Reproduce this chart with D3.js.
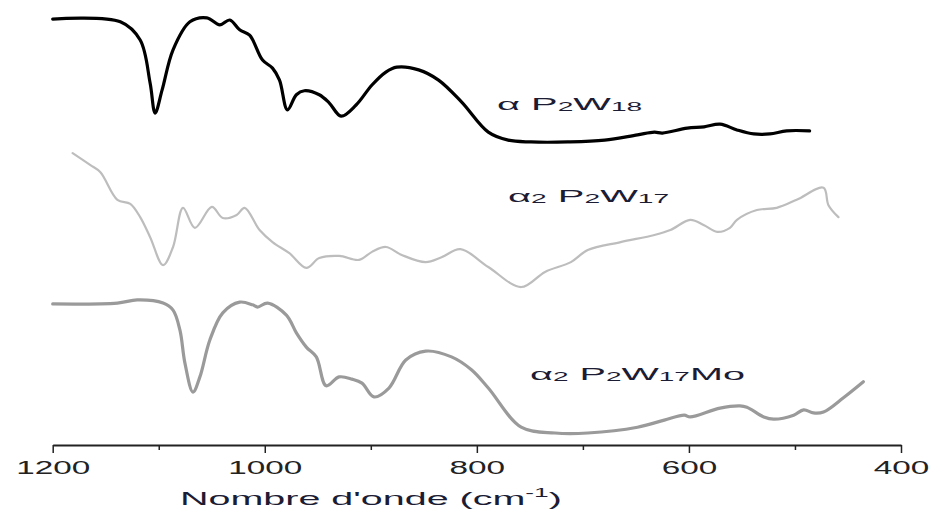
<!DOCTYPE html>
<html><head><meta charset="utf-8">
<script src="https://cdn.jsdelivr.net/npm/d3@7"></script>
<style>
html,body{margin:0;padding:0;background:#fff;}
svg{display:block;font-family:"Liberation Sans",Arial,sans-serif;}
</style></head>
<body><svg id="c" width="932" height="511"></svg>
<script>
// wavenumbers (cm-1) and transmittance-like values (a.u., stacked offsets)
const wnP2W18 = [1200,1136.2,1117.5,1108.1,1103.4,1096.8,1086.5,1070.6,1054.6,1042.4,1033.0,1023.7,1014.3,1002.1,992.7,986.1,978.6,970.2,962.7,948.6,939.3,928.0,913.9,898.9,885.8,875.5,854.9,836.1,814.5,789.2,770.4,748.9,714.2,679.5,648.5,632.5,625.0,601.6,585.7,570.6,554.7,538.8,523.7,507.8,486.2];
const valP2W18 = [95.7,95.1,91.0,81.3,74.6,79.8,88.8,95.1,96.0,94.4,95.5,93.3,92.1,86.5,84.7,82.0,75.3,78.7,79.6,78.7,76.9,73.9,76.4,80.9,83.8,84.9,84.3,82.0,77.1,70.3,68.5,68.1,68.1,68.5,69.7,70.3,70.1,71.2,71.5,72.1,70.8,69.9,69.9,70.6,70.6];

const wnP2W17 = [1181.2,1164.4,1155.0,1139.0,1126.8,1117.5,1108.1,1095.9,1086.5,1077.1,1065.9,1049.9,1039.6,1026.5,1019.0,1004.9,992.7,976.8,960.8,948.6,929.9,911.1,898.9,885.8,870.8,848.3,833.3,815.5,789.2,758.2,735.7,711.3,695.4,664.4,632.5,617.5,598.8,585.7,573.4,561.3,554.7,535.9,517.2,498.4,473.1,468.4,459.0];
const valP2W17 = [65.6,62.9,61.3,55.1,54.2,51.2,46.7,40.4,44.5,53.3,48.8,53.5,51.0,51.7,53.3,48.3,45.6,43.1,39.8,42.0,42.5,41.6,43.4,44.5,42.7,41.1,42.2,44.0,40.0,35.5,38.9,41.1,43.8,45.6,47.2,48.3,50.6,49.4,47.9,48.8,50.6,52.8,53.3,55.1,57.8,53.9,51.2];

const wnP2W17Mo = [1200,1139.0,1120.3,1095.9,1086.5,1080.0,1075.3,1067.7,1061.2,1051.8,1039.6,1023.7,1011.5,1006.8,997.4,979.6,970.2,960.8,951.4,942.1,929.9,917.7,908.3,897.0,882.9,867.0,848.3,823.9,805.1,789.2,758.2,726.3,695.4,648.5,623.2,604.4,598.8,570.6,551.9,545.3,529.4,520.0,501.2,491.8,482.5,473.1,454.3,435.5];
const valP2W17Mo = [31.7,31.9,32.6,31.9,30.3,25.8,18.4,11.9,15.3,23.6,29.7,32.1,31.5,31.0,31.9,29.2,25.2,22.0,19.8,13.3,15.3,14.8,13.9,10.8,12.8,19.1,21.1,19.8,16.9,12.8,4.0,2.7,2.7,4.0,5.6,6.7,6.3,8.3,8.8,8.5,6.3,5.8,6.7,7.9,7.2,7.4,10.6,14.2];

const majorTicks = [1200,1000,800,600,400];
const minorTicks = [1100,900,700,500];
const xTitle = "Nombre d'onde (cm";
const xTitleSup = "-1";

const svg = d3.select("#c");
const x = d3.scaleLinear().domain([1200,400]).range([52.7,901]);
const y = d3.scaleLinear().domain([0,100]).range([445,0]);

const line = d3.line().x(d=>x(d[0])).y(d=>y(d[1])).curve(d3.curveCatmullRom.alpha(0.5));
const zip = (a,b)=>a.map((v,i)=>[v,b[i]]);

const series = [
  {wn:wnP2W17, val:valP2W17, color:"#bdbdbd", w:2.2},
  {wn:wnP2W17Mo, val:valP2W17Mo, color:"#9a9a9a", w:3.2},
  {wn:wnP2W18, val:valP2W18, color:"#000", w:3.2}
];
series.forEach(s=>{
  svg.append("path").datum(zip(s.wn,s.val)).attr("d",line)
    .attr("fill","none").attr("stroke",s.color).attr("stroke-width",s.w)
    .attr("stroke-linejoin","round").attr("stroke-linecap","round");
});

// axis
const gMinor = svg.append("g").attr("transform","translate(0,445)")
  .call(d3.axisBottom(x).tickValues(minorTicks).tickSize(5).tickSizeOuter(0).tickFormat(""));
gMinor.select(".domain").remove();
gMinor.selectAll("line").attr("stroke","#222").attr("stroke-width",1.5);
const gMajor = svg.append("g").attr("transform","translate(0,445)")
  .call(d3.axisBottom(x).tickValues(majorTicks).tickSize(8).tickSizeOuter(0).tickFormat(d3.format("d")));
gMajor.select(".domain").attr("stroke","#222").attr("stroke-width",1.8);
gMajor.selectAll("line").attr("stroke","#222").attr("stroke-width",1.5);
gMajor.selectAll("text").attr("font-size",18).attr("y",29).attr("dy",0)
  .attr("fill","#222").attr("font-family","Liberation Sans, Arial, sans-serif")
  .attr("transform","scale(1.85,1)");

function stretch(g, text, targetW){
  const bb = text.node().getBBox();
  const sx = targetW / bb.width;
  text.attr("transform",`scale(${sx},1)`);
}

// x title
const gt = svg.append("g").attr("transform","translate(180,505)");
const tt = gt.append("text").attr("font-size",18).attr("fill","#1c1c34");
tt.append("tspan").text(xTitle);
tt.append("tspan").attr("font-size",12).attr("dy",-8).text(xTitleSup);
tt.append("tspan").attr("dy",8).text(")");
stretch(gt, tt, 382);

// series labels
const labels = [
  {parts:[["α",17,0],[" P",17,0],["2",12,1],["W",17,-1],["18",12,1]], x:497, y:110, w:146},
  {parts:[["α",17,0],["2",12,1],[" P",17,-1],["2",12,1],["W",17,-1],["17",12,1]], x:508, y:202, w:162},
  {parts:[["α",17,0],["2",12,1],[" P",17,-1],["2",12,1],["W",17,-1],["17",12,1],["Mo",17,-1]], x:530, y:380, w:215}
];
labels.forEach(l=>{
  const g = svg.append("g").attr("transform",`translate(${l.x},${l.y})`);
  const t = g.append("text").attr("fill","#1c1c34");
  l.parts.forEach(p=>{
    t.append("tspan").attr("font-size",p[1]).attr("dy",p[2]).text(p[0]);
  });
  stretch(g, t, l.w);
});
</script></body></html>
